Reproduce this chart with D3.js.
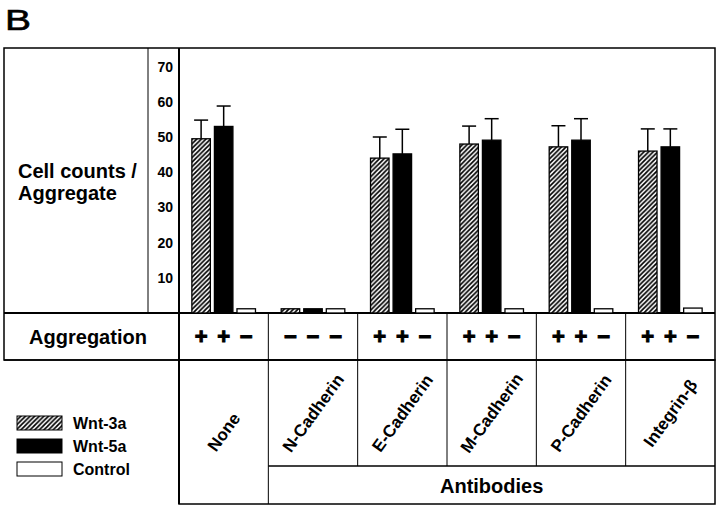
<!DOCTYPE html>
<html><head><meta charset="utf-8">
<script src="https://cdn.jsdelivr.net/npm/d3@7"></script>
<style>
html,body{margin:0;padding:0;background:#fff;}
svg{display:block;font-family:"Liberation Sans",Arial,sans-serif;}
</style></head>
<body>
<svg id="c" width="720" height="508"></svg>
<script>
// ---- data ----
const antibodies = ["None","N-Cadherin","E-Cadherin","M-Cadherin","P-Cadherin","Integrin-\u03B2"];
const seriesNames = ["Wnt-3a","Wnt-5a","Control"];
const wnt3a = [49.5, 1.2, 44, 48, 47.2, 46];
const wnt3aErr = [5.3, 0, 6, 5.1, 6, 6.3];
const wnt5a = [53, 1.2, 45.2, 49.1, 49.1, 47.2];
const wnt5aErr = [5.8, 0, 7, 6.1, 6.1, 5.1];
const control = [1.2, 1.2, 1.2, 1.2, 1.2, 1.4];
const controlErr = [0, 0, 0, 0, 0, 0];
const aggregation = [["+","+","\u2212"],["\u2212","\u2212","\u2212"],["+","+","\u2212"],["+","+","\u2212"],["+","+","\u2212"],["+","+","\u2212"]];
const yTicks = [10,20,30,40,50,60,70];

const svg = d3.select("#c");
const L = 4, R = 715, T = 48, base = 313, aggB = 360, B = 504, axisX = 179, labDiv = 148, abRow = 466;

const x = d3.scaleBand().domain(antibodies).range([axisX, R]).padding(0);
const xs = d3.scaleBand().domain(seriesNames).range([0, x.bandwidth()]).paddingInner(0.18).paddingOuter(0.57);
const y = d3.scaleLinear().domain([0,70]).range([base, 66.6]);

// hatch pattern
const defs = svg.append("defs");
const pat = defs.append("pattern").attr("id","hatch").attr("patternUnits","userSpaceOnUse")
  .attr("width",4.6).attr("height",4.6);
pat.append("rect").attr("width",4.6).attr("height",4.6).attr("fill","#fff");
pat.append("path").attr("d","M-1.15,1.15 l2.3,-2.3 M0,4.6 l4.6,-4.6 M3.45,5.75 l2.3,-2.3").attr("stroke","#000").attr("stroke-width",1.7);
const fills = {"Wnt-3a":"url(#hatch)","Wnt-5a":"#000","Control":"#fff"};

// title letter
svg.append("text").attr("x",0).attr("y",0).attr("font-size",30)
  .attr("transform","translate(5,30) scale(1.3,1)")
  .attr("stroke","#000").attr("stroke-width",0.6).text("B");

// frame lines
const line = (x1,y1,x2,y2,w) => svg.append("line").attr("x1",x1).attr("y1",y1).attr("x2",x2).attr("y2",y2)
  .attr("stroke","#000").attr("stroke-width",w||1);
svg.append("rect").attr("x",L).attr("y",T).attr("width",R-L).attr("height",aggB-T)
  .attr("fill","none").attr("stroke","#000").attr("stroke-width",1.5);
svg.append("rect").attr("x",axisX).attr("y",aggB).attr("width",R-axisX).attr("height",B-aggB)
  .attr("fill","none").attr("stroke","#000").attr("stroke-width",1.5);
line(labDiv,T,labDiv,base,1);
line(axisX,T,axisX,B,2);
line(L,base,R,base,2);
line(L,aggB,R,aggB,1.5);
line(x(antibodies[1]),abRow,R,abRow,1.5);
antibodies.forEach((a,i)=>{
  if(i===0) return;
  line(x(a),base,x(a),aggB,1);
  line(x(a),aggB,x(a), i===1 ? B : abRow,1);
});

// y tick labels
svg.append("g").selectAll("text").data(yTicks).join("text")
  .attr("x",173).attr("y",d=>y(d)).attr("dy","0.35em").attr("text-anchor","end")
  .attr("font-size",14).attr("font-weight","bold").text(d=>d);

// y label
svg.append("text").attr("x",18).attr("y",178).attr("font-size",20).attr("font-weight","bold").text("Cell counts /");
svg.append("text").attr("x",18).attr("y",200).attr("font-size",20).attr("font-weight","bold").text("Aggregate");

// bars
const seriesData = [
  {name:"Wnt-3a", v:wnt3a, e:wnt3aErr},
  {name:"Wnt-5a", v:wnt5a, e:wnt5aErr},
  {name:"Control", v:control, e:controlErr}
];
const bars = [];
seriesData.forEach(s=>antibodies.forEach((a,i)=>bars.push({a, s:s.name, v:s.v[i], e:s.e[i], i})));
const gb = svg.append("g");
// error bars
gb.selectAll("g.err").data(bars.filter(d=>d.e>0)).join("g").each(function(d){
  const cx = x(d.a)+xs(d.s)+xs.bandwidth()/2;
  const g = d3.select(this);
  g.append("line").attr("x1",cx).attr("x2",cx).attr("y1",y(d.v)).attr("y2",y(d.v+d.e)).attr("stroke","#000").attr("stroke-width",1.5);
  g.append("line").attr("x1",cx-7).attr("x2",cx+7).attr("y1",y(d.v+d.e)).attr("y2",y(d.v+d.e)).attr("stroke","#000").attr("stroke-width",1.5);
});
gb.selectAll("rect").data(bars).join("rect")
  .attr("x",d=>x(d.a)+xs(d.s)).attr("width",xs.bandwidth())
  .attr("y",d=>y(d.v)).attr("height",d=>base-y(d.v))
  .attr("fill",d=>fills[d.s]).attr("stroke","#000").attr("stroke-width",1.3);

// aggregation row
svg.append("text").attr("x",88).attr("y",344).attr("text-anchor","middle")
  .attr("font-size",20).attr("font-weight","bold").text("Aggregation");
const aggCells = [];
antibodies.forEach((a,i)=>seriesNames.forEach((s,j)=>aggCells.push({a,s,t:aggregation[i][j]})));
svg.append("g").selectAll("text").data(aggCells).join("text")
  .attr("x",d=>x(d.a)+xs(d.s)+xs.bandwidth()/2).attr("y",344).attr("text-anchor","middle")
  .attr("font-size",22).attr("font-weight","bold").attr("stroke","#000").attr("stroke-width",1)
  .text(d=>d.t);

// antibody labels
svg.append("g").selectAll("text").data(antibodies).join("text")
  .attr("transform",(d,i)=>{
    const cx = x(d)+x.bandwidth()/2;
    const cy = i===0 ? (aggB+B)/2 : (aggB+abRow)/2;
    return `translate(${cx},${cy}) rotate(-54)`;
  })
  .attr("text-anchor","middle").attr("dy","0.35em")
  .attr("font-size",17).attr("font-weight","bold").text(d=>d);
svg.append("text").attr("x",(x(antibodies[1])+R)/2).attr("y",493).attr("text-anchor","middle")
  .attr("font-size",20).attr("font-weight","bold").text("Antibodies");

// legend
const lg = svg.append("g");
seriesNames.forEach((s,i)=>{
  const yy = [416,439,462][i];
  lg.append("rect").attr("x",17).attr("y",yy).attr("width",45).attr("height",14)
    .attr("fill",fills[s]).attr("stroke","#000").attr("stroke-width",1);
  lg.append("text").attr("x",73).attr("y",yy+13).attr("font-size",16).attr("font-weight","bold").text(s);
});
</script>
</body></html>
